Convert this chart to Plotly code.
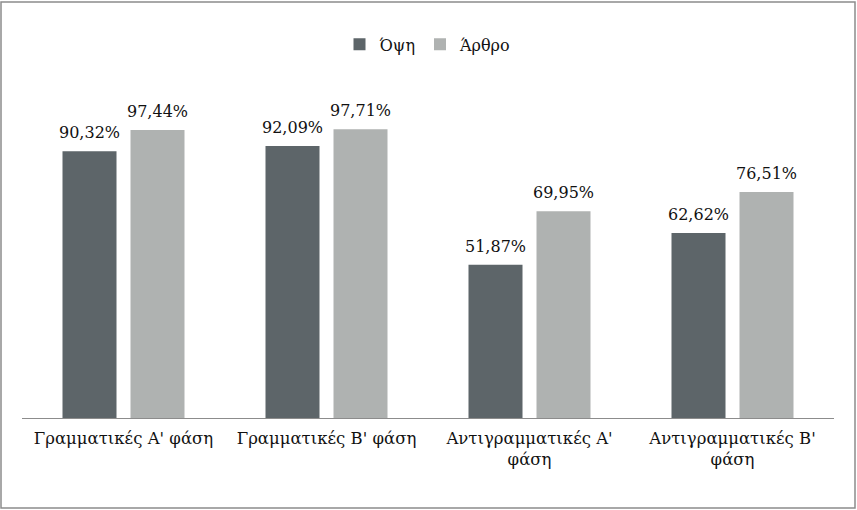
import plotly.graph_objects as go

categories = ["Γραμματικές Α' φάση", "Γραμματικές Β' φάση", "Αντιγραμματικές Α'<br>φάση", "Αντιγραμματικές Β'<br>φάση"]
series_names = ["Όψη", "Άρθρο"]
opsi = [90.32, 92.09, 51.87, 62.62]
arthro = [97.44, 97.71, 69.95, 76.51]
colors = ["#5d6569", "#afb2b1"]

font_family = "DejaVu Serif"

fig = go.Figure()
annotations = []
for i, (name, vals, col) in enumerate(zip(series_names, [opsi, arthro], colors)):
    fig.add_trace(go.Bar(
        x=categories, y=vals, name=name, marker=dict(color=col, line=dict(width=0)),
    ))
    for c, v in zip(categories, vals):
        annotations.append(dict(
            x=c, y=v, xref="x", yref="y", text=f"{v:.2f}%".replace(".", ","),
            showarrow=False, yanchor="bottom", xanchor="center",
            xshift=(i - 0.5) * 68, yshift=7,
            font=dict(family=font_family, size=16, color="#111111"),
        ))

fig.update_layout(
    width=857, height=510,
    margin=dict(l=22, r=23, t=93, b=92),
    paper_bgcolor="white", plot_bgcolor="white",
    barmode="group", bargap=0.33, bargroupgap=0.206,
    font=dict(family=font_family, size=16, color="#111111"),
    legend=dict(orientation="h", x=0.5, xanchor="center", y=0.913, yanchor="middle",
                yref="container", font=dict(family=font_family, size=16),
                traceorder="normal", itemwidth=30),
    showlegend=True,
    xaxis=dict(showline=True, linecolor="#8c8c8c", linewidth=1, ticks="",
               ticklabelstandoff=5,
               tickfont=dict(family=font_family, size=16.5, color="#111111")),
    yaxis=dict(range=[0, 110], visible=False, showgrid=False, zeroline=False),
    annotations=annotations,
    shapes=[dict(type="rect", xref="paper", yref="paper", x0=-21/812, x1=1+21/812,
                 y0=-90/325, y1=1+91/325, line=dict(color="#8c8c8c", width=1.5))],
)

fig.write_html("out.html", config={"displayModeBar": False},
               post_script="document.body.style.margin='0';document.body.style.overflow='hidden';")
